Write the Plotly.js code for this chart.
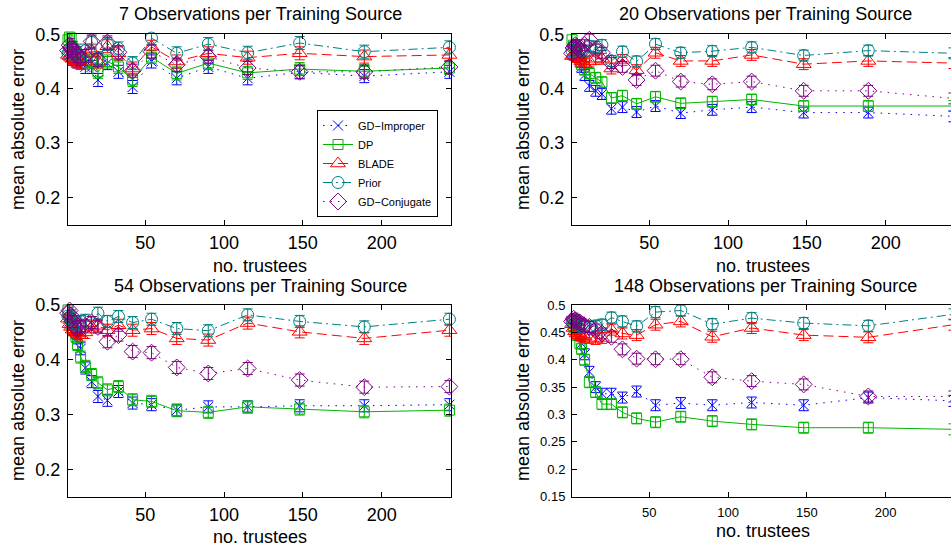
<!DOCTYPE html>
<html>
<head>
<meta charset="utf-8">
<script src="https://cdn.plot.ly/plotly-3.0.1.min.js"></script>
<style>
  html, body { margin: 0; padding: 0; background: #fff; }
  #chart { width: 951px; height: 546px; }
</style>
</head>
<body>
<div id="chart"></div>
<script>
// ---------------- DATA ----------------
const trustees = [1, 2, 3, 4, 6, 7, 9, 12, 16, 20, 26, 33, 42, 54, 70, 90, 115, 148, 189, 243];
const seriesNames = ['GD\u2212Improper', 'DP', 'BLADE', 'Prior', 'GD\u2212Conjugate'];
const panelTitles = ['7 Observations per Training Source', '20 Observations per Training Source',
                     '54 Observations per Training Source', '148 Observations per Training Source'];

// 7 observations per training source
const obs7_gdImproper = [0.465,0.462,0.458,0.455,0.452,0.450,0.448,0.440,0.440,0.416,0.447,0.431,0.403,0.450,0.419,0.440,0.419,0.430,0.423,0.431];
const obs7_dp         = [0.490,0.495,0.493,0.475,0.465,0.460,0.456,0.448,0.450,0.431,0.450,0.440,0.416,0.458,0.428,0.447,0.429,0.436,0.432,0.438];
const obs7_blade      = [0.462,0.460,0.457,0.455,0.452,0.450,0.448,0.455,0.470,0.450,0.478,0.465,0.437,0.477,0.450,0.465,0.457,0.465,0.459,0.462];
const obs7_prior      = [0.465,0.470,0.472,0.475,0.470,0.465,0.460,0.470,0.485,0.456,0.482,0.474,0.447,0.493,0.465,0.482,0.466,0.484,0.468,0.476];
const obs7_gdConj     = [0.470,0.480,0.475,0.470,0.465,0.460,0.455,0.460,0.487,0.453,0.485,0.467,0.433,0.468,0.444,0.459,0.438,0.431,0.431,0.440];

// 20 observations per training source
const obs20_gdImproper = [0.470,0.468,0.465,0.460,0.450,0.440,0.425,0.405,0.396,0.390,0.363,0.366,0.357,0.368,0.355,0.361,0.366,0.356,0.356,0.349];
const obs20_dp         = [0.490,0.480,0.470,0.466,0.455,0.445,0.435,0.428,0.420,0.412,0.383,0.387,0.372,0.385,0.373,0.376,0.380,0.368,0.368,0.368];
const obs20_blade      = [0.460,0.462,0.460,0.458,0.455,0.450,0.445,0.450,0.455,0.455,0.437,0.453,0.434,0.466,0.451,0.451,0.462,0.445,0.451,0.447];
const obs20_prior      = [0.470,0.478,0.480,0.475,0.472,0.470,0.468,0.478,0.477,0.480,0.451,0.468,0.450,0.482,0.466,0.469,0.476,0.461,0.470,0.465];
const obs20_gdConj     = [0.465,0.475,0.480,0.478,0.472,0.468,0.480,0.490,0.472,0.466,0.447,0.440,0.416,0.433,0.413,0.408,0.413,0.396,0.396,0.382];

// 54 observations per training source
const obs54_gdImproper = [0.475,0.470,0.465,0.460,0.450,0.440,0.420,0.385,0.360,0.333,0.326,0.342,0.321,0.318,0.308,0.314,0.314,0.316,0.316,0.318];
const obs54_dp         = [0.491,0.476,0.465,0.455,0.443,0.428,0.405,0.388,0.373,0.358,0.345,0.351,0.327,0.324,0.307,0.304,0.314,0.310,0.305,0.308];
const obs54_blade      = [0.475,0.465,0.460,0.455,0.452,0.448,0.445,0.450,0.460,0.462,0.454,0.463,0.454,0.457,0.439,0.436,0.467,0.451,0.439,0.454];
const obs54_prior      = [0.480,0.478,0.475,0.470,0.468,0.465,0.470,0.472,0.468,0.485,0.470,0.479,0.468,0.474,0.457,0.453,0.482,0.470,0.460,0.474];
const obs54_gdConj     = [0.485,0.490,0.480,0.470,0.460,0.455,0.460,0.462,0.468,0.460,0.433,0.445,0.415,0.413,0.386,0.375,0.384,0.363,0.350,0.351];

// 148 observations per training source
const obs148_gdImproper = [0.470,0.465,0.460,0.455,0.445,0.430,0.410,0.378,0.350,0.338,0.338,0.331,0.342,0.317,0.321,0.317,0.322,0.317,0.331,0.325];
const obs148_dp         = [0.470,0.462,0.455,0.445,0.430,0.420,0.400,0.359,0.341,0.319,0.319,0.304,0.293,0.286,0.296,0.288,0.282,0.276,0.276,0.273];
const obs148_blade      = [0.465,0.458,0.452,0.448,0.445,0.443,0.442,0.440,0.438,0.440,0.455,0.448,0.445,0.464,0.470,0.442,0.458,0.445,0.441,0.464];
const obs148_prior      = [0.470,0.472,0.470,0.468,0.465,0.463,0.460,0.460,0.462,0.464,0.477,0.470,0.461,0.487,0.490,0.465,0.476,0.467,0.462,0.483];
const obs148_gdConj     = [0.470,0.475,0.472,0.470,0.468,0.465,0.462,0.460,0.455,0.448,0.442,0.419,0.402,0.401,0.401,0.368,0.361,0.355,0.333,0.333];

// half-width of the error bars
const errObs7 = 0.012;
const errObs20 = 0.010;
const errObs54 = 0.011;
const errObs148 = 0.010;

const xTickVals = [50, 100, 150, 200];
const yTickVals = [0.2, 0.3, 0.4, 0.5];
const yTickValsFine = [0.15, 0.2, 0.25, 0.3, 0.35, 0.4, 0.45, 0.5];
const yTickTextFine = ['0.15', '0.2', '0.25', '0.3', '0.35', '0.4', '0.45', '0.5'];

// ---------------- STYLE ----------------
const styles = [
  {color: '#0000ff', symbol: 'x-thin-open', size: 10, dash: '1.5px,6px'},
  {color: '#00b400', symbol: 'square-open', size: 10, dash: 'solid'},
  {color: '#ff0000', symbol: 'triangle-up-open', size: 13, dash: '10px,5px'},
  {color: '#008080', symbol: 'circle-open', size: 12, dash: '9px,4px,2px,4px'},
  {color: '#800080', symbol: 'diamond-open', size: 13, dash: '1.5px,6px'}
];

const panels = [
  {series: [obs7_gdImproper, obs7_dp, obs7_blade, obs7_prior, obs7_gdConj], err: errObs7, xa: 'x', ya: 'y'},
  {series: [obs20_gdImproper, obs20_dp, obs20_blade, obs20_prior, obs20_gdConj], err: errObs20, xa: 'x2', ya: 'y2'},
  {series: [obs54_gdImproper, obs54_dp, obs54_blade, obs54_prior, obs54_gdConj], err: errObs54, xa: 'x3', ya: 'y3'},
  {series: [obs148_gdImproper, obs148_dp, obs148_blade, obs148_prior, obs148_gdConj], err: errObs148, xa: 'x4', ya: 'y4'}
];

const traces = [];
panels.forEach((p, pi) => {
  p.series.forEach((vals, si) => {
    const s = styles[si];
    traces.push({
      type: 'scatter', mode: 'lines+markers',
      x: trustees, y: vals,
      xaxis: p.xa, yaxis: p.ya,
      name: seriesNames[si],
      legendgroup: seriesNames[si],
      showlegend: pi === 0,
      cliponaxis: false,
      line: {color: s.color, width: 1, dash: s.dash},
      marker: {symbol: s.symbol, size: s.size, color: s.color, line: {color: s.color, width: 1}},
      error_y: {type: 'constant', value: p.err, color: s.color, thickness: 1, width: 5}
    });
  });
});

// ---------------- LAYOUT ----------------
const W = 951, H = 546;
const px = v => v / W;
const py = v => 1 - v / H;

const baseAxis = {
  showline: true, linecolor: '#000', linewidth: 1,
  ticks: 'inside', ticklen: 5, tickcolor: '#000', tickwidth: 1,
  showgrid: false, zeroline: false,
  tickfont: {size: 18, color: '#000'}
};
function xAxis(domain, range, anchor, fontSize, standoff) {
  return Object.assign({}, baseAxis, {
    domain: domain, range: range, anchor: anchor, mirror: 'ticks',
    tickmode: 'array', tickvals: xTickVals,
    tickfont: {size: fontSize, color: '#000'}, ticklabelstandoff: standoff
  });
}
function yAxis(domain, anchor, mirror, fine) {
  return Object.assign({}, baseAxis, {
    domain: domain, range: [0.15, 0.5], anchor: anchor, mirror: mirror,
    tickmode: 'array',
    tickvals: fine ? yTickValsFine : yTickVals,
    ticktext: fine ? yTickTextFine : yTickVals.map(String),
    tickfont: {size: fine ? 13 : 18, color: '#000'},
    ticklabelstandoff: 3
  });
}

const leftX = [px(68), px(451)];
const rightX = [px(572), 1];
const topY = [py(224.5), py(34.3)];
const botY = [py(496.7), py(305)];
const rightRange = [1, 1 + (W - 572) / (383 / 243)];

const font = 'Liberation Sans, Arial, Helvetica, sans-serif';
function ann(text, x, y, size, angle) {
  return {text: text, x: px(x), y: py(y), xref: 'paper', yref: 'paper',
          xanchor: 'center', yanchor: 'middle', showarrow: false,
          textangle: angle || 0, font: {size: size, color: '#000', family: font}};
}

const layout = {
  width: W, height: H,
  margin: {l: 0, r: 0, t: 0, b: 0, pad: 0},
  paper_bgcolor: '#fff', plot_bgcolor: '#fff',
  font: {family: font, color: '#000'},
  xaxis:  xAxis(leftX, [1, 244], 'y', 18, 2),
  yaxis:  yAxis(topY, 'x', 'ticks', false),
  xaxis2: xAxis(rightX, rightRange, 'y2', 18, 2),
  yaxis2: yAxis(topY, 'x2', false, false),
  xaxis3: xAxis(leftX, [1, 244], 'y3', 18, 2),
  yaxis3: yAxis(botY, 'x3', 'ticks', false),
  xaxis4: xAxis(rightX, rightRange, 'y4', 13, 4),
  yaxis4: yAxis(botY, 'x4', false, true),
  showlegend: true,
  legend: {
    x: px(438), y: py(217), xanchor: 'right', yanchor: 'bottom',
    bgcolor: '#fff', bordercolor: '#000', borderwidth: 1,
    font: {size: 11, color: '#000', family: font},
    tracegroupgap: 0, itemwidth: 30
  },
  annotations: [
    ann(panelTitles[0], 260, 14, 18),
    ann(panelTitles[1], 765, 14, 18),
    ann(panelTitles[2], 260, 286, 18),
    ann(panelTitles[3], 765, 286, 18),
    ann('no. trustees', 260, 266, 18),
    ann('no. trustees', 763, 266, 18),
    ann('no. trustees', 260, 537, 18),
    ann('no. trustees', 763, 531, 18),
    ann('mean absolute error', 18, 130, 18, -90),
    ann('mean absolute error', 523, 130, 18, -90),
    ann('mean absolute error', 18, 401, 18, -90),
    ann('mean absolute error', 523, 401, 18, -90)
  ]
};

Plotly.newPlot('chart', traces, layout, {displayModeBar: false, staticPlot: true});
</script>
</body>
</html>
